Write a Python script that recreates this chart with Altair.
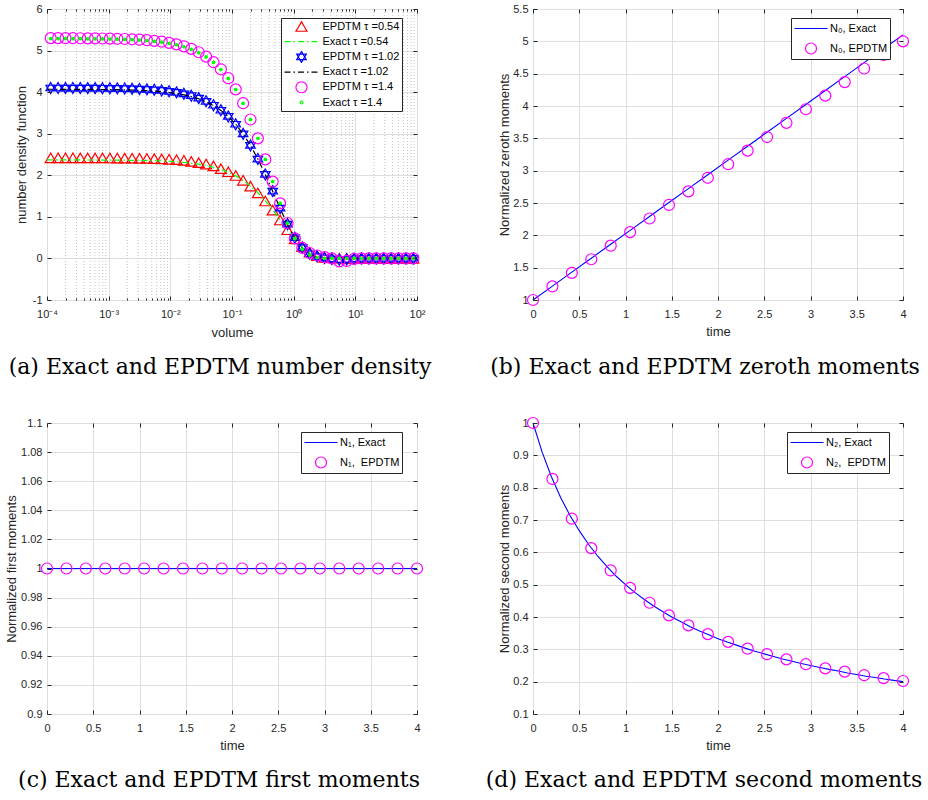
import altair as alt
import pandas as pd

# ---------------- panel (a): number density ----------------
volume = [1.148e-4, 1.514e-4, 1.995e-4, 2.630e-4, 3.467e-4, 4.571e-4, 6.026e-4, 7.943e-4,
          1.047e-3, 1.380e-3, 1.820e-3, 2.399e-3, 3.162e-3, 4.169e-3, 5.495e-3, 7.244e-3,
          9.550e-3, 1.259e-2, 1.660e-2, 2.188e-2, 2.884e-2, 3.802e-2, 5.012e-2, 6.607e-2,
          8.710e-2, 0.1148, 0.1514, 0.1995, 0.2630, 0.3467, 0.4571, 0.6026, 0.7943,
          1.047, 1.380, 1.820, 2.399, 3.162, 4.169, 5.495, 7.244, 9.550, 12.59, 16.60,
          21.88, 28.84, 38.02, 50.12, 66.07, 87.10]

epdtm_054 = [2.420, 2.420, 2.420, 2.420, 2.419, 2.419, 2.418, 2.418,
             2.416, 2.415, 2.413, 2.411, 2.408, 2.405, 2.400, 2.394,
             2.385, 2.375, 2.360, 2.335, 2.305, 2.270, 2.225, 2.160,
             2.085, 1.995, 1.880, 1.740, 1.575, 1.382, 1.162, 0.925, 0.690,
             0.470, 0.285, 0.150, 0.068, 0.028, 0.012, 0.005, 0.002, 0.0, 0.0, 0.0,
             0.0, 0.0, 0.0, 0.0, 0.0, 0.0]
exact_054 = [2.370, 2.369, 2.369, 2.369, 2.369, 2.368, 2.368, 2.367,
             2.366, 2.365, 2.363, 2.361, 2.358, 2.355, 2.350, 2.344,
             2.335, 2.325, 2.310, 2.291, 2.267, 2.235, 2.194, 2.141,
             2.072, 1.986, 1.877, 1.743, 1.581, 1.390, 1.172, 0.937, 0.697,
             0.473, 0.283, 0.144, 0.059, 0.018, 0.004, 0.0, 0.0, 0.0, 0.0, 0.0,
             0.0, 0.0, 0.0, 0.0, 0.0, 0.0]
epdtm_102 = [4.100, 4.100, 4.099, 4.099, 4.098, 4.097, 4.096, 4.094,
             4.092, 4.090, 4.086, 4.081, 4.075, 4.067, 4.056, 4.041,
             4.020, 3.995, 3.960, 3.915, 3.855, 3.780, 3.685, 3.565,
             3.415, 3.228, 2.995, 2.718, 2.390, 2.020, 1.618, 1.210, 0.825,
             0.498, 0.258, 0.112, 0.045, 0.012, -0.012, -0.028, -0.022, -0.008, 0.0, 0.0,
             0.0, 0.0, 0.0, 0.0, 0.0, 0.0]
exact_102 = [4.069, 4.069, 4.068, 4.068, 4.067, 4.066, 4.065, 4.063,
             4.061, 4.059, 4.055, 4.050, 4.044, 4.036, 4.025, 4.011,
             3.992, 3.968, 3.936, 3.894, 3.840, 3.769, 3.678, 3.561,
             3.413, 3.227, 2.995, 2.719, 2.391, 2.019, 1.615, 1.204, 0.818,
             0.491, 0.250, 0.103, 0.032, 0.007, 0.001, 0.0, 0.0, 0.0, 0.0, 0.0,
             0.0, 0.0, 0.0, 0.0, 0.0, 0.0]
epdtm_140 = [5.300, 5.299, 5.298, 5.297, 5.296, 5.294, 5.293, 5.290,
             5.287, 5.283, 5.278, 5.271, 5.262, 5.250, 5.234, 5.213,
             5.185, 5.149, 5.102, 5.040, 4.960, 4.855, 4.720, 4.550,
             4.335, 4.066, 3.734, 3.342, 2.888, 2.382, 1.848, 1.324, 0.852,
             0.480, 0.255, 0.130, 0.070, 0.030, 0.000, -0.070, -0.060, -0.010, 0.0, 0.0,
             0.0, 0.0, 0.0, 0.0, 0.0, 0.0]
exact_140 = [5.289, 5.288, 5.288, 5.287, 5.286, 5.284, 5.283, 5.280,
             5.277, 5.273, 5.268, 5.261, 5.252, 5.240, 5.224, 5.203,
             5.175, 5.139, 5.092, 5.030, 4.951, 4.847, 4.714, 4.544,
             4.330, 4.063, 3.732, 3.341, 2.888, 2.382, 1.848, 1.324, 0.852,
             0.476, 0.221, 0.080, 0.021, 0.004, 0.0, 0.0, 0.0, 0.0, 0.0, 0.0,
             0.0, 0.0, 0.0, 0.0, 0.0, 0.0]
# exact curves also drawn to the ends of the volume axis
line_start, line_end = 1.0e-4, 1.0e2
exact_054_ends = [2.370, 0.0]
exact_102_ends = [4.069, 0.0]

series_a = ["EPDTM \u03c4 =0.54", "Exact \u03c4 =0.54", "EPDTM \u03c4 =1.02",
            "Exact \u03c4 =1.02", "EPDTM \u03c4 =1.4", "Exact \u03c4 =1.4"]
decades = [1e-4, 1e-3, 1e-2, 1e-1, 1.0, 10.0, 100.0]
minor_a = [m * 10.0 ** e for e in range(-4, 2) for m in range(2, 10)]
yticks_a = [-1, 0, 1, 2, 3, 4, 5, 6]

# ---------------- panels (b)-(d): moments ----------------
time = [0.0, 0.21, 0.42, 0.63, 0.84, 1.05, 1.26, 1.47, 1.68, 1.89,
        2.11, 2.32, 2.53, 2.74, 2.95, 3.16, 3.37, 3.58, 3.79, 4.0]
n0_epdtm = [1.0, 1.21, 1.42, 1.63, 1.84, 2.05, 2.26, 2.47, 2.68, 2.89,
            3.10, 3.31, 3.52, 3.74, 3.95, 4.16, 4.37, 4.58, 4.79, 5.0]
n0_exact = [1.0, 1.215, 1.431, 1.646, 1.861, 2.076, 2.292, 2.507, 2.722, 2.937,
            3.163, 3.378, 3.593, 3.809, 4.024, 4.239, 4.454, 4.670, 4.885, 5.100]
n1_epdtm = [1.0] * 20
n1_exact = [1.0] * 20
n2_epdtm = [1.0, 0.827, 0.704, 0.613, 0.544, 0.490, 0.444, 0.405, 0.374, 0.347,
            0.323, 0.302, 0.285, 0.269, 0.254, 0.241, 0.231, 0.220, 0.211, 0.202]
time_fine = [0.0, 0.1, 0.2, 0.3, 0.4, 0.5, 0.6, 0.7, 0.8, 0.9, 1.0, 1.1, 1.2, 1.3,
             1.4, 1.5, 1.6, 1.7, 1.8, 1.9, 2.0, 2.1, 2.2, 2.3, 2.4, 2.5, 2.6, 2.7,
             2.8, 2.9, 3.0, 3.1, 3.2, 3.3, 3.4, 3.5, 3.6, 3.7, 3.8, 3.9, 4.0]
n2_exact = [1.0, 0.909, 0.833, 0.769, 0.714, 0.667, 0.625, 0.588, 0.556, 0.526,
            0.500, 0.476, 0.455, 0.435, 0.417, 0.400, 0.385, 0.370, 0.357, 0.345,
            0.333, 0.323, 0.313, 0.303, 0.294, 0.286, 0.278, 0.270, 0.263, 0.256,
            0.250, 0.244, 0.238, 0.233, 0.227, 0.222, 0.217, 0.213, 0.208, 0.204, 0.200]
xticks_t = [0, 0.5, 1, 1.5, 2, 2.5, 3, 3.5, 4]
yticks_b = [1, 1.5, 2, 2.5, 3, 3.5, 4, 4.5, 5, 5.5]
yticks_c = [0.9, 0.92, 0.94, 0.96, 0.98, 1.0, 1.02, 1.04, 1.06, 1.08, 1.1]
yticks_d = [0.1, 0.2, 0.3, 0.4, 0.5, 0.6, 0.7, 0.8, 0.9, 1.0]

# ---------------- styling ----------------
W, H = 370, 291
AX = "#262626"
RED, GREEN, BLUE, BLACK, MAGENTA = "#ff0000", "#00ff00", "#0000ff", "#000000", "#ff00ff"
HEX = "M0,-1L0.866,0.5L-0.866,0.5Z M0,1L0.866,-0.5L-0.866,-0.5Z"
DASHDOT = [6, 3, 1.5, 3]
SOLID = [1, 0]


def tick_axis(orient, values, size):
    return alt.Axis(orient=orient, values=values, offset=-size, tickSize=size, ticks=True,
                    labels=False, domain=False, grid=False, title=None, tickColor=AX,
                    tickWidth=1, zindex=2)


def tick_layers(xs, ys, xmaj, ymaj, xmin=None):
    d = pd.DataFrame({"tx": [xmaj[0]], "ty": [ymaj[0]]})
    base = alt.Chart(d).mark_point(opacity=0)
    out = [
        base.encode(x=alt.X("tx:Q", scale=xs, axis=tick_axis("top", xmaj, 4)),
                    y=alt.Y("ty:Q", scale=ys, axis=tick_axis("right", ymaj, 4))),
        base.encode(x=alt.X("tx:Q", scale=xs, axis=tick_axis("bottom", xmaj, 4)),
                    y=alt.Y("ty:Q", scale=ys, axis=tick_axis("left", ymaj, 4))),
    ]
    if xmin is not None:
        out.append(base.encode(x=alt.X("tx:Q", scale=xs, axis=tick_axis("top", xmin, 2)),
                               y=alt.Y("ty:Q", scale=ys, axis=None)))
        out.append(base.encode(x=alt.X("tx:Q", scale=xs, axis=tick_axis("bottom", xmin, 2)),
                               y=alt.Y("ty:Q", scale=ys, axis=None)))
    return out


def x_axis(values, title, title_y, **kw):
    return alt.Axis(orient="bottom", values=values, title=title, grid=True, ticks=False,
                    tickSize=0, domain=False, labelPadding=8, labelFlush=False,
                    labelOverlap=False, titleX=W / 2, titleY=title_y,
                    titleBaseline="middle", titleAlign="center", **kw)


def y_axis(values, title, title_x, **kw):
    return alt.Axis(orient="left", values=values, title=title, grid=True, ticks=False,
                    tickSize=0, domain=False, labelPadding=5, labelFlush=False,
                    labelOverlap=False, titleAngle=270, titleX=title_x, titleY=H / 2,
                    titleAlign="center", titleBaseline="middle", **kw)


def caption(text, dx, offset):
    return alt.TitleParams(text=text, orient="bottom", anchor="middle", frame="group",
                           offset=offset, baseline="alphabetic", dx=dx,
                           font="DejaVu Serif", fontSize=22, fontWeight="normal",
                           color="#000000")


# ---------------- panel (a) ----------------
xs_a = alt.Scale(type="log", domain=[1e-4, 100], nice=False)
ys_a = alt.Scale(domain=[-1, 6], nice=False, zero=False)
LOGLBL = ("['10\u207b\u2074','10\u207b\u00b3','10\u207b\u00b2','10\u207b\u00b9','10\u2070',"
          "'10\u00b9','10\u00b2'][round(log(datum.value)/LN10)+4]")
X_a = alt.X("volume:Q", scale=xs_a,
            axis=x_axis(decades, "volume", 32, labelExpr=LOGLBL))
Y_a = alt.Y("value:Q", scale=ys_a,
            axis=y_axis(yticks_a, "number density function", -26, format="d",
                        labelExpr="replace(datum.label, '\u2212', '-')"))
Xn_a = alt.X("volume:Q", scale=xs_a, axis=None)
Yn_a = alt.Y("value:Q", scale=ys_a, axis=None)

leg_a = alt.Legend(orient="none", legendX=234, legendY=9, direction="vertical", title=None,
                   clipHeight=12, rowPadding=3.2, padding=2.5, labelOffset=3,
                   symbolStrokeWidth=1.2)
color_a = alt.Color("series:N", legend=leg_a,
                    scale=alt.Scale(domain=series_a,
                                    range=[RED, GREEN, BLUE, BLACK, MAGENTA, GREEN]))
shape_a = alt.Shape("series:N", legend=leg_a,
                    scale=alt.Scale(domain=series_a,
                                    range=["triangle-up", "stroke", HEX, "stroke", "circle", "circle"]))
size_a = alt.Size("series:N", legend=leg_a,
                  scale=alt.Scale(type="ordinal", domain=series_a,
                                  range=[121, 1156, 121, 1156, 121, 7]))
dash_a = alt.StrokeDash("series:N", legend=leg_a,
                        scale=alt.Scale(domain=series_a,
                                        range=[SOLID, DASHDOT, SOLID, DASHDOT, SOLID, SOLID]))


def pts_df(vals, name):
    return pd.DataFrame({"volume": volume, "value": vals, "series": name})


def line_df(vals, ends, name):
    return pd.DataFrame({"volume": [line_start] + volume + [line_end],
                         "value": [ends[0]] + vals + [ends[1]], "series": name})


minor_rules = alt.Chart(pd.DataFrame({"volume": minor_a})).mark_rule(
    color="#c4c4c4", strokeDash=[1, 2], strokeWidth=1).encode(x=Xn_a)

tri = alt.Chart(pts_df(epdtm_054, series_a[0])).mark_point(
    filled=False, opacity=1, strokeWidth=1.2).encode(
    x=X_a, y=Y_a, color=color_a, shape=shape_a, size=size_a)
ln054 = alt.Chart(line_df(exact_054, exact_054_ends, series_a[1])).mark_line(
    strokeWidth=1.2).encode(x=Xn_a, y=Yn_a, color=color_a, strokeDash=dash_a)
hexs = alt.Chart(pts_df(epdtm_102, series_a[2])).mark_point(
    filled=False, opacity=1, strokeWidth=1.2).encode(
    x=Xn_a, y=Yn_a, color=color_a, shape=shape_a, size=size_a)
ln102 = alt.Chart(line_df(exact_102, exact_102_ends, series_a[3])).mark_line(
    strokeWidth=1.2).encode(x=Xn_a, y=Yn_a, color=color_a, strokeDash=dash_a)
circ = alt.Chart(pts_df(epdtm_140, series_a[4])).mark_point(
    filled=False, opacity=1, strokeWidth=1.2).encode(
    x=Xn_a, y=Yn_a, color=color_a, shape=shape_a, size=size_a)
dots = alt.Chart(pts_df(exact_140, series_a[5])).mark_circle(
    size=14, opacity=1, color=GREEN).encode(x=Xn_a, y=Yn_a)

panel_a = alt.layer(
    minor_rules, *tick_layers(xs_a, ys_a, decades, yticks_a, minor_a),
    tri, ln054, hexs, ln102, circ, dots
).properties(width=W, height=H,
             title=caption("(a) Exact and EPDTM number density", -12, 35))


# ---------------- panels (b)-(d) ----------------
def moments_panel(names, t_line, v_line, v_pts, ydom, yvals, yfmt, ytitle, title_x,
                  legend_x, cap, cap_dx, cap_off):
    xs = alt.Scale(domain=[0, 4], nice=False)
    ys = alt.Scale(domain=ydom, nice=False, zero=False)
    leg = alt.Legend(orient="none", legendX=legend_x, legendY=9, direction="vertical",
                     title=None, clipHeight=16, rowPadding=4, padding=2.5, labelOffset=1.5,
                     symbolStrokeWidth=1.2)
    color = alt.Color("series:N", legend=leg,
                      scale=alt.Scale(domain=names, range=[BLUE, MAGENTA]))
    shape = alt.Shape("series:N", legend=leg,
                      scale=alt.Scale(domain=names, range=["stroke", "circle"]))
    size = alt.Size("series:N", legend=leg,
                    scale=alt.Scale(type="ordinal", domain=names, range=[1089, 121]))
    df_line = pd.DataFrame({"time": t_line, "value": v_line, "series": names[0]})
    df_pts = pd.DataFrame({"time": time, "value": v_pts, "series": names[1]})
    line = alt.Chart(df_line).mark_line(strokeWidth=1.1).encode(
        x=alt.X("time:Q", scale=xs, axis=x_axis(xticks_t, "time", 31, format=".1~f")),
        y=alt.Y("value:Q", scale=ys, axis=y_axis(yvals, ytitle, title_x, format=yfmt)),
        color=color)
    pts = alt.Chart(df_pts).mark_point(filled=False, opacity=1, strokeWidth=1.2).encode(
        x=alt.X("time:Q", scale=xs, axis=None),
        y=alt.Y("value:Q", scale=ys, axis=None),
        color=color, shape=shape, size=size)
    return alt.layer(*tick_layers(xs, ys, xticks_t, yvals), line, pts).properties(
        width=W, height=H, title=caption(cap, cap_dx, cap_off))


panel_b = moments_panel(["N\u2080, Exact", "N\u2080, EPDTM"], time, n0_exact, n0_epdtm,
                        [1, 5.5], yticks_b, ".1~f", "Normalized zeroth moments", -29, 258,
                        "(b) Exact and EPDTM zeroth moments", -13, 36)
panel_c = moments_panel(["N\u2081, Exact", "N\u2081,\u00a0 EPDTM"], time, n1_exact, n1_epdtm,
                        [0.9, 1.1], yticks_c, ".2~f", "Normalized first moments", -36, 254,
                        "(c) Exact and EPDTM first moments", -13, 35)
panel_d = moments_panel(["N\u2082, Exact", "N\u2082,\u00a0 EPDTM"], time_fine, n2_exact, n2_epdtm,
                        [0.1, 1.0], yticks_d, ".1~f", "Normalized second moments", -29, 254,
                        "(d) Exact and EPDTM second moments", -14, 35)

chart = alt.concat(
    panel_a, panel_b, panel_c, panel_d, columns=2,
    spacing={"row": 123, "column": 116}, bounds="flush"
).resolve_scale(
    color="independent", shape="independent", size="independent", strokeDash="independent"
).resolve_legend(
    color="independent", shape="independent", size="independent", strokeDash="independent"
).properties(
    padding={"left": 4, "top": 2, "right": 4, "bottom": 4}, background="white"
).configure_view(
    stroke=AX, strokeWidth=1
).configure_axis(
    labelFont="Liberation Sans", labelFontSize=11, labelColor=AX,
    titleFont="Liberation Sans", titleFontSize=13, titleFontWeight="normal", titleColor=AX,
    gridColor="#dedede", gridWidth=1, gridOpacity=1
).configure_legend(
    labelFont="Liberation Sans", labelFontSize=11, labelColor="#000000",
    strokeColor=AX, fillColor="#ffffff"
)

chart.save("out.html", embed_options={"renderer": "svg", "actions": False})
